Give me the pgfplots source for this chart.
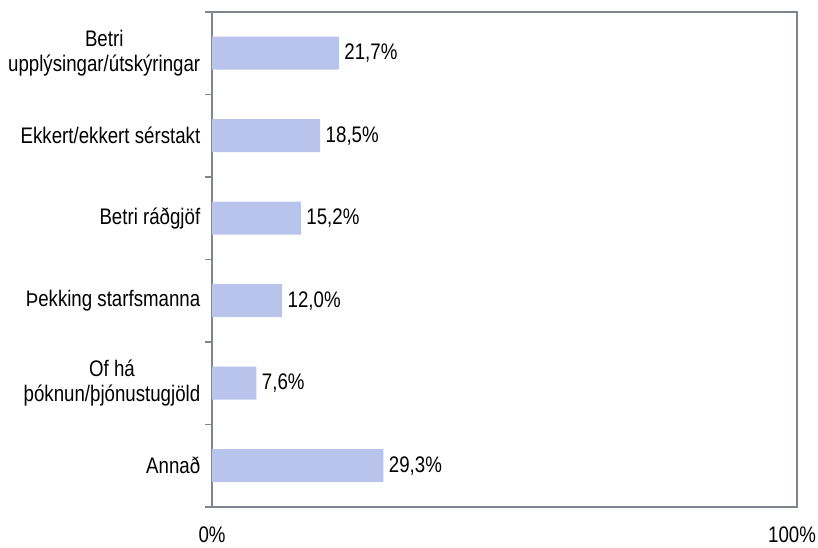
\documentclass[border=0pt]{standalone}
\usepackage{pgfplots}
\pgfplotsset{compat=1.18}
\usepackage{fontspec}
\setmainfont{Liberation Sans}[FakeStretch=0.83]
\definecolor{barc}{HTML}{B8C4EC}
\definecolor{axc}{HTML}{80848C}
\begin{document}
\begin{tikzpicture}
\begin{axis}[
  name=ax,
  scale only axis,
  width=585bp, height=495bp,
  xmin=0, xmax=100,
  ymin=-0.5, ymax=5.5,
  xbar,
  bar width=33bp,
  axis line style={draw=axc, line width=1.6bp},
  xtick={0,100},
  xticklabels={0\%,\hspace*{-10bp}100\%},
  xtick style={draw=none},
  xticklabel style={yshift=-12bp},
  ytick={0,1,2,3,4,5},
  yticklabels={Annað, {Of há\\þóknun/þjónustugjöld}, Þekking starfsmanna, Betri ráðgjöf, Ekkert/ekkert sérstakt, {Betri\\upplýsingar/útskýringar}},
  yticklabel style={align=center, xshift=-4bp},
  major y tick style={draw=none},
  minor ytick={-0.5,0.5,1.5,2.5,3.5,4.5,5.5},
  minor y tick style={draw=axc, line width=1.2bp},
  minor tick length=7bp,
  tick align=outside,
  tick pos=left,
  /pgf/number format/assume math mode=true,
  tick label style={font=\fontsize{22.5bp}{25bp}\selectfont},
  nodes near coords={\pgfmathprintnumber[fixed,fixed zerofill,precision=1,use comma]{\pgfplotspointmeta}\%},
  every node near coord/.append style={font=\fontsize{22.5bp}{25bp}\selectfont, xshift=2bp},
]
\addplot[fill=barc, draw=none] coordinates {
  (29.3,0) (7.6,1) (12.0,2) (15.2,3) (18.5,4) (21.7,5)
};
\end{axis}
\pgfresetboundingbox
\path ([xshift=-212bp,yshift=-41bp]ax.south west) rectangle ([xshift=21bp,yshift=12bp]ax.north east);
\end{tikzpicture}
\end{document}
